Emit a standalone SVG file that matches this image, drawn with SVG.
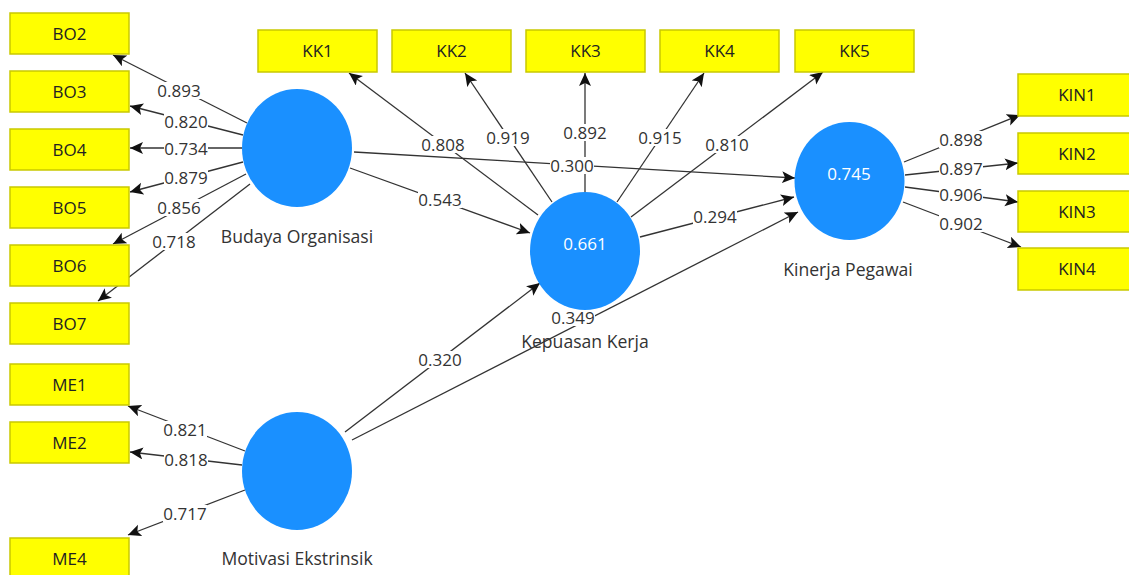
<svg xmlns="http://www.w3.org/2000/svg" width="1129" height="575" viewBox="0 0 1129 575">
<defs>
<style>
.box{fill:#ffff00;stroke:#c9c900;stroke-width:1.5}
.bt{font-family:"Open Sans","Noto Sans",sans-serif;font-size:17px;fill:#222;text-anchor:middle}
.lv{fill:#1a90ff}
.lt{font-family:"Open Sans","Noto Sans",sans-serif;font-size:17.6px;fill:#333;text-anchor:middle}
.vt{font-family:"Open Sans","Noto Sans",sans-serif;font-size:17px;fill:#ffffff;text-anchor:middle}
.c line{stroke:#333;stroke-width:1.3;marker-end:url(#ah)}
.lb rect{fill:#ffffff}
.lb text{font-family:"Open Sans","Noto Sans",sans-serif;font-size:17px;fill:#333;text-anchor:middle}
</style>
<marker id="ah" markerUnits="userSpaceOnUse" markerWidth="15" markerHeight="13" refX="13" refY="6" orient="auto">
<path d="M0,0 L13,6 L0,12 L3,6 Z" fill="#111"/>
</marker>
</defs>
<rect x="0" y="0" width="1129" height="575" fill="#ffffff"/>

<g id="connectors" class="c">
<line x1="247" y1="123" x2="113" y2="55"/>
<line x1="243" y1="135" x2="130" y2="106"/>
<line x1="242" y1="148" x2="130" y2="148"/>
<line x1="243" y1="162" x2="130" y2="192"/>
<line x1="246" y1="174" x2="113" y2="244"/>
<line x1="250" y1="184" x2="98" y2="301"/>
<line x1="538" y1="215" x2="349" y2="73"/>
<line x1="552" y1="202" x2="465" y2="73"/>
<line x1="585" y1="192" x2="585" y2="73"/>
<line x1="617" y1="202" x2="704" y2="73"/>
<line x1="631" y1="217" x2="823" y2="72"/>
<line x1="354" y1="152" x2="795" y2="178"/>
<line x1="350" y1="168" x2="530" y2="233"/>
<line x1="640" y1="237" x2="794" y2="197"/>
<line x1="345" y1="432" x2="540" y2="283"/>
<line x1="352" y1="440" x2="798" y2="212"/>
<line x1="245" y1="451" x2="128" y2="406"/>
<line x1="242" y1="465" x2="130" y2="452"/>
<line x1="245" y1="490" x2="128" y2="535"/>
<line x1="904" y1="162" x2="1020" y2="115"/>
<line x1="905" y1="175" x2="1018" y2="163"/>
<line x1="905" y1="187" x2="1018" y2="202"/>
<line x1="903" y1="202" x2="1021" y2="247"/>
</g>

<g id="labels" class="lb">
<rect x="157" y="82" width="44" height="17"/><text x="179" y="97">0.893</text>
<rect x="164" y="113" width="44" height="17"/><text x="186" y="128">0.820</text>
<rect x="164" y="140" width="44" height="17"/><text x="186" y="155">0.734</text>
<rect x="164" y="169" width="44" height="17"/><text x="186" y="184">0.879</text>
<rect x="157" y="199" width="44" height="17"/><text x="179" y="214">0.856</text>
<rect x="152" y="233" width="44" height="17"/><text x="174" y="248">0.718</text>
<rect x="421" y="136" width="44" height="17"/><text x="443" y="151">0.808</text>
<rect x="486" y="129" width="44" height="17"/><text x="508" y="144">0.919</text>
<rect x="563" y="124" width="44" height="17"/><text x="585" y="139">0.892</text>
<rect x="638" y="129" width="44" height="17"/><text x="660" y="144">0.915</text>
<rect x="705" y="136" width="44" height="17"/><text x="727" y="151">0.810</text>
<rect x="550" y="157" width="44" height="17"/><text x="572" y="172">0.300</text>
<rect x="418" y="191" width="44" height="17"/><text x="440" y="206">0.543</text>
<rect x="693" y="208" width="44" height="17"/><text x="715" y="223">0.294</text>
<rect x="418" y="351" width="44" height="17"/><text x="440" y="366">0.320</text>
<rect x="551" y="310" width="44" height="16"/><text x="573" y="324">0.349</text>
<rect x="163" y="421" width="44" height="17"/><text x="185" y="436">0.821</text>
<rect x="164" y="451" width="44" height="17"/><text x="186" y="466">0.818</text>
<rect x="163" y="505" width="44" height="17"/><text x="185" y="520">0.717</text>
<rect x="939" y="131" width="44" height="17"/><text x="961" y="146">0.898</text>
<rect x="939" y="160" width="44" height="17"/><text x="961" y="175">0.897</text>
<rect x="939" y="186" width="44" height="17"/><text x="961" y="201">0.906</text>
<rect x="939" y="215" width="44" height="17"/><text x="961" y="230">0.902</text>
</g>

<g id="BO2"><rect class="box" x="10" y="13" width="119" height="41"/><text class="bt" x="69.5" y="40">BO2</text></g>
<g id="BO3"><rect class="box" x="10" y="71" width="119" height="41"/><text class="bt" x="69.5" y="98">BO3</text></g>
<g id="BO4"><rect class="box" x="10" y="129" width="119" height="41"/><text class="bt" x="69.5" y="156">BO4</text></g>
<g id="BO5"><rect class="box" x="10" y="187" width="119" height="41"/><text class="bt" x="69.5" y="214">BO5</text></g>
<g id="BO6"><rect class="box" x="10" y="245" width="119" height="41"/><text class="bt" x="69.5" y="272">BO6</text></g>
<g id="BO7"><rect class="box" x="10" y="303" width="119" height="41"/><text class="bt" x="69.5" y="330">BO7</text></g>
<g id="ME1"><rect class="box" x="10" y="364" width="119" height="41"/><text class="bt" x="69.5" y="391">ME1</text></g>
<g id="ME2"><rect class="box" x="10" y="422" width="119" height="41"/><text class="bt" x="69.5" y="449">ME2</text></g>
<g id="ME4"><rect class="box" x="10" y="538" width="119" height="41"/><text class="bt" x="69.5" y="565">ME4</text></g>
<g id="KK1"><rect class="box" x="258" y="30" width="119" height="42"/><text class="bt" x="317.5" y="57">KK1</text></g>
<g id="KK2"><rect class="box" x="392" y="30" width="119" height="42"/><text class="bt" x="451.5" y="57">KK2</text></g>
<g id="KK3"><rect class="box" x="526" y="30" width="119" height="42"/><text class="bt" x="585.5" y="57">KK3</text></g>
<g id="KK4"><rect class="box" x="660" y="30" width="119" height="42"/><text class="bt" x="719.5" y="57">KK4</text></g>
<g id="KK5"><rect class="box" x="795" y="30" width="119" height="42"/><text class="bt" x="854.5" y="57">KK5</text></g>
<g id="KIN1"><rect class="box" x="1018" y="74" width="119" height="42"/><text class="bt" x="1077" y="101">KIN1</text></g>
<g id="KIN2"><rect class="box" x="1018" y="133" width="119" height="41"/><text class="bt" x="1077" y="160">KIN2</text></g>
<g id="KIN3"><rect class="box" x="1018" y="191" width="119" height="41"/><text class="bt" x="1077" y="218">KIN3</text></g>
<g id="KIN4"><rect class="box" x="1018" y="248" width="119" height="42"/><text class="bt" x="1077" y="275">KIN4</text></g>

<g id="BudayaOrganisasi"><ellipse class="lv" cx="297" cy="148" rx="55" ry="59"/><text class="lt" x="297" y="243">Budaya Organisasi</text></g>
<g id="KepuasanKerja"><ellipse class="lv" cx="585" cy="251" rx="55" ry="59"/><text class="vt" x="585" y="250">0.661</text><text class="lt" x="585" y="348">Kepuasan Kerja</text></g>
<g id="KinerjaPegawai"><ellipse class="lv" cx="849.5" cy="181" rx="55" ry="59"/><text class="vt" x="849" y="180">0.745</text><text class="lt" x="848" y="276">Kinerja Pegawai</text></g>
<g id="MotivasiEkstrinsik"><ellipse class="lv" cx="297" cy="471" rx="55" ry="59"/><text class="lt" x="297" y="565">Motivasi Ekstrinsik</text></g>
</svg>
